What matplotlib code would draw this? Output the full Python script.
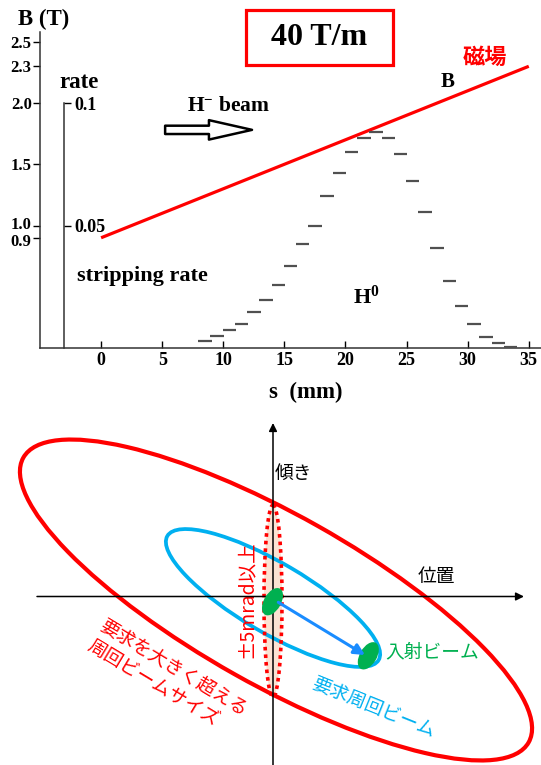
import numpy as np
import matplotlib
matplotlib.use('Agg')
import matplotlib.pyplot as plt
import matplotlib.transforms as mtransforms
from matplotlib.patches import Ellipse, Rectangle, FancyArrowPatch

# upper chart : field along s and H0 stripping rate per 1 mm bin
s_field = [0, 35]          # mm
B_field = [0.9, 2.3]       # T  (40 T/m)
B_ticks = [0.9, 1.0, 1.5, 2.0, 2.3, 2.5]
B_ticklabels = ['0.9', '1.0', '1.5', '2.0', '2.3', '2.5']
s_ticks = [0, 5, 10, 15, 20, 25, 30, 35]
rate_ticks = [0.05, 0.1]
rate_ticklabels = ['0.05', '0.1']
s_bins = [8.5, 9.5, 10.5, 11.5, 12.5, 13.5, 14.5, 15.5, 16.5, 17.5, 18.5, 19.5, 20.5,
          21.5, 22.5, 23.5, 24.5, 25.5, 26.5, 27.5, 28.5, 29.5, 30.5, 31.5, 32.5, 33.5]
strip_rate = [0.0030, 0.0049, 0.0074, 0.0100, 0.0145, 0.0195, 0.0259, 0.0335, 0.0425,
              0.0499, 0.0620, 0.0715, 0.0799, 0.0859, 0.0880, 0.0859, 0.0794, 0.0683,
              0.0554, 0.0410, 0.0275, 0.0170, 0.0097, 0.0044, 0.0019, 0.0003]

# lower diagram : phase space sketch (in picture pixels)
origin = (273, 596.5)
big_ring = (276, 600, 580, 170, 29.4)      # cx, cy, width, height, angle
req_ring = (273, 598, 245, 70, 30.4)
kick_window = (273, 601, 18, 192, 0)
inj_start = (272.5, 601.7)
inj_end = (368.3, 655.8)

plt.rcParams['font.family'] = 'Liberation Serif'
plt.rcParams['font.weight'] = 'bold'
plt.rcParams['mathtext.fontset'] = 'custom'
plt.rcParams['mathtext.bf'] = 'Liberation Serif:bold'
plt.rcParams['mathtext.rm'] = 'Liberation Serif:bold'
jp = ['Noto Sans CJK JP', 'DejaVu Sans']

W, H = 541, 765
fig = plt.figure(figsize=(W / 100, H / 100), dpi=100)

ax = fig.add_axes([40 / W, (H - 348) / H, 501 / W, 316 / H])
ax.set_xlim(-5, 36)
ax.set_ylim(0, 2.58)
ax.patch.set_alpha(0)
for sp in ['top', 'right']:
    ax.spines[sp].set_visible(False)
for sp in ['left', 'bottom']:
    ax.spines[sp].set_linewidth(1.1)
    ax.spines[sp].set_color('#333333')
ax.set_yticks(B_ticks, B_ticklabels)
ax.set_xticks(s_ticks)
ax.tick_params(axis='y', direction='out', length=5, width=1, pad=1, labelsize=12)
ax.tick_params(axis='x', direction='in', length=5, width=1, pad=3, labelsize=13)
# 0.9 and 1.0 sit very close: push them slightly apart
ylabels = ax.get_yticklabels()
ylabels[0].set_transform(ylabels[0].get_transform()
                         + mtransforms.ScaledTranslation(0, -1.8 / 72, fig.dpi_scale_trans))
ylabels[1].set_transform(ylabels[1].get_transform()
                         + mtransforms.ScaledTranslation(0, 1.8 / 72, fig.dpi_scale_trans))

ax.plot(s_field, B_field, color='red', lw=2.3, solid_capstyle='butt')

rax = ax.twinx()
rax.set_ylim(0, 2.58 * 0.05)
for sp in ['left', 'top', 'bottom']:
    rax.spines[sp].set_visible(False)
rax.spines['right'].set_position(('data', -3))
rax.spines['right'].set_bounds(0, 0.1)
rax.spines['right'].set_linewidth(1.1)
rax.spines['right'].set_color('#333333')
rax.set_yticks(rate_ticks, rate_ticklabels)
rax.tick_params(axis='y', direction='out', length=5, width=1, pad=2, labelsize=13)
sb = np.array(s_bins)
rax.hlines(strip_rate, sb - 0.55, sb + 0.55, color='#505050', lw=1.6)

ax.text(-4.74, 2.68, 'B (T)', ha='center', va='center', fontsize=16.5, clip_on=False)
ax.text(-1.8, 2.165, 'rate', ha='center', va='center', fontsize=16.5)
ax.add_patch(Rectangle((11.86, 2.312), 12.02, 0.449, fill=False, ec='red', lw=2.3,
                       clip_on=False))
ax.text(17.87, 2.537, '40 T/m', ha='center', va='center', fontsize=23, clip_on=False)
ax.text(31.4, 2.377, '磁場', ha='center', va='center', color='red', fontsize=16,
        family=jp, weight='bold')
ax.text(28.37, 2.173, 'B', ha='center', va='center', fontsize=15)
ax.text(7.03, 1.977, r'$\mathbf{H^{-}}$ beam', ha='left', va='center', fontsize=15.5)
ax.add_patch(FancyArrowPatch((5.24, 1.781), (12.35, 1.781),
                             arrowstyle='simple,head_length=3.1,head_width=1.4,tail_width=0.6',
                             mutation_scale=10, fc='white', ec='black', lw=1.8,
                             shrinkA=0, shrinkB=0))
ax.text(-1.96, 0.588, 'stripping rate', ha='left', va='center', fontsize=16)
ax.text(21.67, 0.417, r'$\mathbf{H^{0}}$', ha='center', va='center', fontsize=16)
ax.text(16.76, -0.36, 's  (mm)', ha='center', va='center', fontsize=16.5)

# lower diagram
dax = fig.add_axes([0, 0, 1, 355 / H])
dax.set_xlim(0, W)
dax.set_ylim(H, 410)
dax.axis('off')

cx, cy, w, h, a = big_ring
dax.add_patch(Ellipse((cx, cy), w, h, angle=a, fill=False, ec='#ff0000', lw=3, zorder=2,
                      clip_on=False))
cx, cy, w, h, a = kick_window
dax.add_patch(Ellipse((cx, cy), w, h, angle=a, fc='#fbe2d2', ec='none', zorder=1))
dax.add_patch(Ellipse((cx, cy), w, h, angle=a, fill=False, ec='#ff0000', lw=2.6,
                      ls=(0, (1, 1.1)), zorder=4))
cx, cy, w, h, a = req_ring
dax.add_patch(Ellipse((cx, cy), w, h, angle=a, fill=False, ec='#00b0f0', lw=2.7, zorder=3))

dax.annotate('', xy=(524, origin[1]), xytext=(37, origin[1]),
             arrowprops=dict(arrowstyle='-|>', color='black', lw=1.1, mutation_scale=12,
                             shrinkA=0, shrinkB=0), zorder=5)
dax.annotate('', xy=(origin[0], 423), xytext=(origin[0], H),
             arrowprops=dict(arrowstyle='-|>', color='black', lw=1.1, mutation_scale=12,
                             shrinkA=0, shrinkB=0), zorder=5)

for c in [inj_start, inj_end]:
    dax.add_patch(Ellipse(c, 30, 17, angle=-60, fc='#00b050', ec='none', zorder=7))
dax.annotate('', xy=(365, 655), xytext=(278.3, 602.3),
             arrowprops=dict(arrowstyle='-|>', color='#1a8cff', lw=2.2, mutation_scale=16,
                             shrinkA=0, shrinkB=0), zorder=8)

dax.text(293.3, 473, '傾き', ha='center', va='center', fontsize=13.5, family=jp,
         weight='normal', color='black')
dax.text(436, 576.7, '位置', ha='center', va='center', fontsize=13.5, family=jp,
         weight='normal', color='black')
dax.text(385, 651.7, '入射ビーム', ha='left', va='center', fontsize=13.5, family=jp,
         weight='normal', color='#00b050')
dax.text(373, 707, '要求周回ビーム', ha='center', va='center', fontsize=13.5, family=jp,
         weight='normal', color='#00b0f0', rotation=-22, rotation_mode='anchor')
dax.text(167, 678, '要求を大きく超える\n周回ビームサイズ', ha='center', va='center',
         multialignment='left', fontsize=13.5, family=jp, weight='normal', color='red',
         rotation=-31, rotation_mode='anchor', linespacing=1.15)
dax.text(246, 599, '±5mrad以上', ha='center', va='center', fontsize=14, family=jp,
         weight='normal', color='red', rotation=90, rotation_mode='anchor')

fig.savefig('out.png', dpi=100)
